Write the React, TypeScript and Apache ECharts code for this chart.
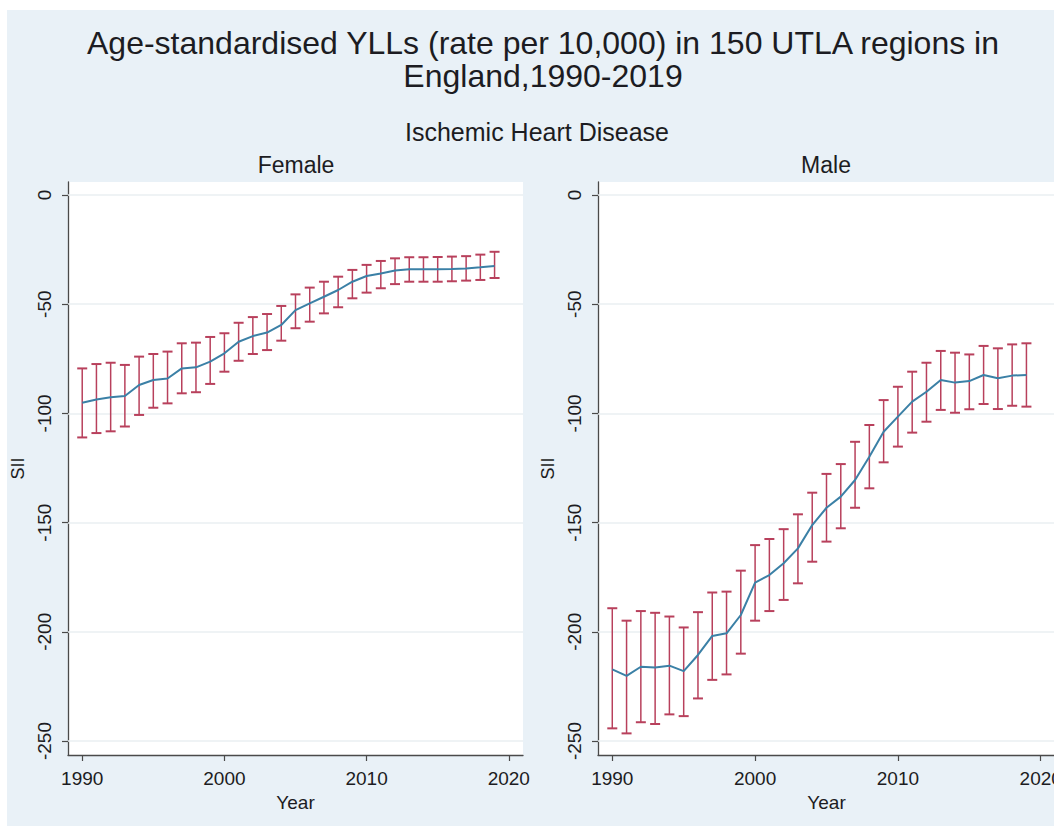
import React, { useEffect, useRef } from "react";
import * as echarts from "echarts";

const years = [1990, 1991, 1992, 1993, 1994, 1995, 1996, 1997, 1998, 1999, 2000, 2001, 2002, 2003, 2004, 2005, 2006, 2007, 2008, 2009, 2010, 2011, 2012, 2013, 2014, 2015, 2016, 2017, 2018, 2019];

const femaleMean = [-95.1, -93.6, -92.6, -92.0, -87.0, -84.7, -84.0, -79.4, -78.9, -76.3, -72.5, -67.2, -64.6, -63.0, -59.5, -52.7, -49.6, -46.6, -43.5, -39.7, -37.1, -35.9, -34.6, -34.0, -34.0, -34.0, -33.9, -33.6, -33.1, -32.5];
const femaleUpper = [-79.4, -77.4, -76.8, -77.8, -74.0, -72.8, -71.7, -67.9, -67.6, -65.0, -63.3, -58.5, -55.9, -54.5, -50.8, -45.5, -42.4, -39.7, -37.4, -34.3, -32.0, -30.2, -29.0, -28.5, -28.5, -28.4, -28.2, -28.0, -27.3, -26.0];
const femaleLower = [-111.0, -109.0, -108.2, -106.0, -100.7, -97.4, -95.4, -90.8, -90.3, -86.5, -80.9, -75.9, -72.8, -71.0, -66.7, -61.0, -58.0, -54.2, -51.4, -47.3, -44.7, -42.7, -40.8, -39.7, -39.7, -39.7, -39.5, -39.2, -38.9, -38.0];

const maleMean = [-217.2, -220.2, -216.0, -216.3, -215.5, -218.0, -210.6, -201.9, -200.7, -192.3, -177.5, -174.0, -168.6, -161.8, -151.1, -143.2, -138.1, -130.5, -119.8, -108.4, -101.5, -94.6, -90.1, -84.7, -85.9, -85.2, -82.4, -83.9, -82.7, -82.4];
const maleUpper = [-189.2, -194.9, -190.5, -191.3, -193.0, -198.0, -191.0, -182.0, -181.6, -172.0, -160.3, -157.5, -153.0, -146.2, -136.3, -127.7, -123.2, -113.0, -105.3, -93.9, -87.8, -80.9, -76.8, -71.4, -72.2, -73.0, -69.1, -70.2, -68.4, -67.9];
const maleLower = [-244.2, -246.5, -241.4, -242.2, -237.8, -238.6, -230.5, -222.0, -219.5, -210.0, -194.9, -190.5, -185.4, -177.8, -167.9, -158.7, -152.6, -143.2, -134.3, -122.4, -115.2, -108.8, -103.8, -98.4, -99.7, -98.1, -95.7, -98.0, -96.5, -96.9];

const xTicks = [1990, 2000, 2010, 2020];
const yTicks = [0, -50, -100, -150, -200, -250];

const titleLine1 = "Age-standardised YLLs (rate per 10,000) in 150 UTLA regions in";
const titleLine2 = "England,1990-2019";
const subtitle = "Ischemic Heart Disease";
const panelTitles = ["Female", "Male"];

const FONT = "'Liberation Sans', Arial, Helvetica, sans-serif";
const LINE_COLOR = "#3b80a6";
const BAR_COLOR = "#b8405c";
const AXIS_COLOR = "#4a4a4a";
const TEXT_COLOR = "#1c1c22";

export default function App() {
  const ref = useRef<HTMLDivElement>(null);

  useEffect(() => {
    if (!ref.current) return;
    const chart = echarts.init(ref.current, null, { renderer: "svg" });

    const grids = [
      { left: 68, top: 182, width: 455, height: 573 },
      { left: 598, top: 182, width: 457, height: 573 },
    ];

    const xAxisFor = (i: number) => ({
      type: "value",
      gridIndex: i,
      min: 1989,
      max: 2021,
      name: "Year",
      nameLocation: "middle",
      nameGap: 38,
      nameTextStyle: { fontFamily: FONT, fontSize: 19, color: TEXT_COLOR },
      axisLine: { show: true, onZero: false, lineStyle: { color: AXIS_COLOR, width: 1.3 } },
      axisTick: { show: true, length: 6, customValues: xTicks, lineStyle: { color: AXIS_COLOR, width: 1.2 } },
      axisLabel: {
        customValues: xTicks,
        margin: 14,
        fontFamily: FONT,
        fontSize: 19,
        color: TEXT_COLOR,
        formatter: (v: number) => String(v),
      },
      splitLine: { show: false },
    });

    const yAxisFor = (i: number) => ({
      type: "value",
      gridIndex: i,
      min: -256.4,
      max: 5.95,
      name: "SII",
      nameLocation: "middle",
      nameGap: 41,
      nameRotate: 90,
      nameTextStyle: { fontFamily: FONT, fontSize: 18, color: TEXT_COLOR },
      axisLine: { show: true, onZero: false, lineStyle: { color: AXIS_COLOR, width: 1.3 } },
      axisTick: { show: true, length: 6, customValues: yTicks, lineStyle: { color: AXIS_COLOR, width: 1.2 } },
      axisLabel: { customValues: yTicks, rotate: 90, margin: 14, fontFamily: FONT, fontSize: 19, color: TEXT_COLOR },
      splitLine: { show: false },
    });

    const errorSeries = (i: number, lower: number[], upper: number[]) => ({
      type: "custom",
      xAxisIndex: i,
      yAxisIndex: i,
      z: 3,
      data: years.map((y, k) => [y, lower[k], upper[k]]),
      encode: { x: 0, y: [1, 2] },
      renderItem: (_params: any, api: any) => {
        const x = api.value(0);
        const pLo = api.coord([x, api.value(1)]);
        const pHi = api.coord([x, api.value(2)]);
        const hw = 5;
        return {
          type: "group",
          children: [
            { type: "line", shape: { x1: pLo[0], y1: pLo[1], x2: pHi[0], y2: pHi[1] }, style: { stroke: BAR_COLOR, lineWidth: 1.5 } },
            { type: "line", shape: { x1: pLo[0] - hw, y1: pLo[1], x2: pLo[0] + hw, y2: pLo[1] }, style: { stroke: BAR_COLOR, lineWidth: 2 } },
            { type: "line", shape: { x1: pHi[0] - hw, y1: pHi[1], x2: pHi[0] + hw, y2: pHi[1] }, style: { stroke: BAR_COLOR, lineWidth: 2 } },
          ],
        };
      },
    });

    const lineSeries = (i: number, mean: number[]) => ({
      type: "line",
      xAxisIndex: i,
      yAxisIndex: i,
      z: 4,
      data: years.map((y, k) => [y, mean[k]]),
      showSymbol: false,
      symbol: "none",
      lineStyle: { color: LINE_COLOR, width: 2 },
    });

    const gridLineSeries = (i: number) => ({
      type: "line",
      xAxisIndex: i,
      yAxisIndex: i,
      z: 1,
      data: [],
      markLine: {
        silent: true,
        symbol: "none",
        z: 1,
        label: { show: false },
        lineStyle: { color: "#eaeff2", width: 1.5, type: "solid" },
        data: yTicks.map((v) => ({ yAxis: v })),
      },
    });

    const titleStyle = (text: string, size: number) => ({
      text,
      align: "center",
      verticalAlign: "middle",
      fontFamily: FONT,
      fontSize: size,
      fill: TEXT_COLOR,
    });

    const option = {
      animation: false,
      backgroundColor: "#ffffff",
      grid: grids.map((g) => ({
        ...g,
        show: true,
        backgroundColor: "#ffffff",
        borderWidth: 0,
        containLabel: false,
        outerBoundsMode: "none",
      })),
      xAxis: [xAxisFor(0), xAxisFor(1)],
      yAxis: [yAxisFor(0), yAxisFor(1)],
      graphic: [
        { type: "rect", z: -10, shape: { x: 7, y: 10, width: 1047, height: 816 }, style: { fill: "#e9f1f7" } },
        { type: "text", x: 543, y: 43, style: titleStyle(titleLine1, 32) },
        { type: "text", x: 543, y: 76, style: titleStyle(titleLine2, 32) },
        { type: "text", x: 537, y: 132, style: titleStyle(subtitle, 25) },
        { type: "text", x: 296, y: 165, style: titleStyle(panelTitles[0], 23) },
        { type: "text", x: 826, y: 165, style: titleStyle(panelTitles[1], 23) },
      ],
      series: [
        gridLineSeries(0),
        gridLineSeries(1),
        errorSeries(0, femaleLower, femaleUpper),
        errorSeries(1, maleLower, maleUpper),
        lineSeries(0, femaleMean),
        lineSeries(1, maleMean),
      ],
    };

    chart.setOption(option as any);
    return () => chart.dispose();
  }, []);

  return <div ref={ref} style={{ position: "absolute", left: 0, top: 0, width: 1054, height: 826 }} />;
}
